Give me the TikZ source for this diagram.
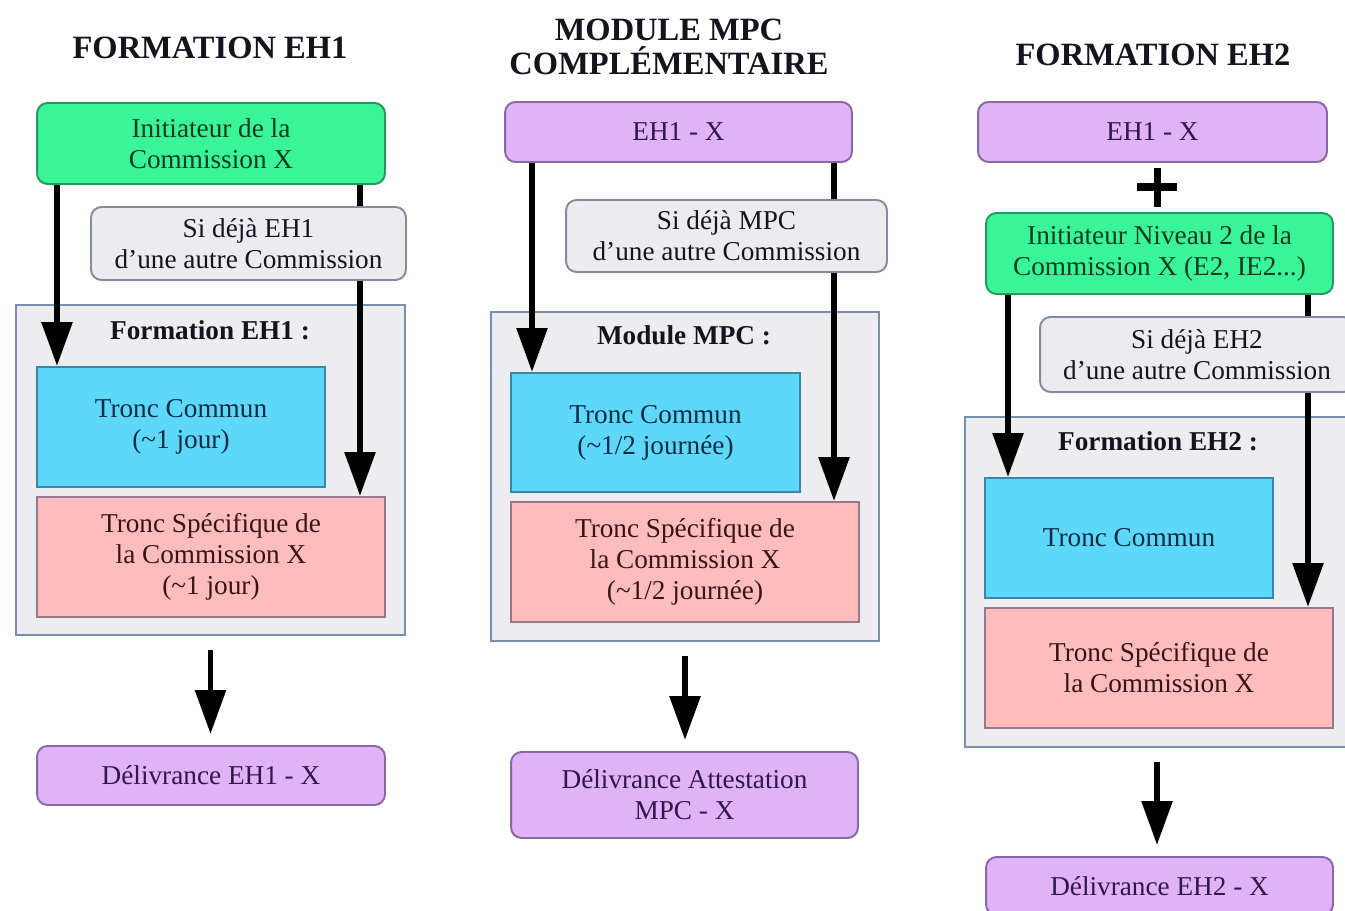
\documentclass[tikz,border=0pt]{standalone}
\usepackage{fontspec}
\setmainfont{Liberation Serif}
\usetikzlibrary{arrows.meta}
\definecolor{grn}{RGB}{58,245,152}
\definecolor{grnd}{RGB}{40,150,95}
\definecolor{grnt}{RGB}{14,59,32}
\definecolor{pur}{RGB}{224,178,248}
\definecolor{purd}{RGB}{135,105,160}
\definecolor{purt}{RGB}{48,24,72}
\definecolor{blu}{RGB}{94,216,250}
\definecolor{blud}{RGB}{55,135,170}
\definecolor{blut}{RGB}{13,43,69}
\definecolor{pnk}{RGB}{255,188,188}
\definecolor{pnkd}{RGB}{150,120,145}
\definecolor{pnkt}{RGB}{58,20,20}
\definecolor{gry}{RGB}{236,236,240}
\definecolor{gryd}{RGB}{130,140,160}
\definecolor{cnt}{RGB}{237,237,239}
\definecolor{cntd}{RGB}{120,144,176}
\definecolor{ttl}{RGB}{20,20,30}
\begin{document}
\begin{tikzpicture}[x=0.02cm,y=-0.02cm,
  box/.style={draw, line width=1.1pt, inner sep=0pt, align=center,
    font=\fontsize{15.5}{17.6}\selectfont},
  rbox/.style={box, rounded corners=6pt},
  greenbox/.style={rbox, fill=grn, draw=grnd, text=grnt},
  purplebox/.style={rbox, fill=pur, draw=purd, text=purt},
  graybox/.style={rbox, fill=gry, draw=gryd, text=ttl},
  bluebox/.style={box, fill=blu, draw=blud, text=blut},
  pinkbox/.style={box, fill=pnk, draw=pnkd, text=pnkt},
  contbox/.style={draw=cntd, fill=cnt, line width=1.1pt, inner sep=0pt},
  ctitle/.style={font=\fontsize{15.5}{17.6}\selectfont\bfseries, text=ttl, inner sep=0pt},
  title/.style={font=\fontsize{18.5}{19.8}\selectfont\bfseries, text=ttl, align=center, inner sep=0pt},
  arr/.style={line width=3.4pt, -{Triangle[width=17pt,length=25pt]}},
  botarr/.style={arr, shorten <=0.29cm, shorten >=0.22cm},
  wh/.style n args={2}{minimum width=#1cm, minimum height=#2cm}
]
\useasboundingbox (0,0) rectangle (1345,911);
\clip (0,0) rectangle (1345,911);
\fill[white] (0,0) rectangle (1345,911);

% ---------------- Column 1 ----------------
\node[title] (t1) at (210,48) {FORMATION EH1};
\node[greenbox, wh={6.96}{1.62}] (i1) at (211,143.5) {Initiateur de la\\Commission X};
\node[contbox, wh={7.78}{6.6}] (c1) at (210.5,470) {};
\node[ctitle] (l1) at (210,330) {Formation EH1 :};
\node[bluebox, wh={5.76}{2.4}] (tc1) at (181,427) {Tronc Commun\\(\textasciitilde1 jour)};
\node[pinkbox, wh={6.96}{2.4}] (ts1) at (211,557) {Tronc Spécifique de\\la Commission X\\(\textasciitilde1 jour)};
\node[purplebox, wh={6.96}{1.18}] (d1) at (211,775.5) {Délivrance EH1 - X};
\coordinate (x1a) at (57,0);
\coordinate (x1b) at (360,0);
\draw[arr] (i1.south -| x1a) -- (tc1.north -| x1a);
\draw[arr] (i1.south -| x1b) -- (ts1.north -| x1b);
\draw[botarr] (c1.south) -- (c1.south |- d1.north);
\node[graybox, wh={6.3}{1.46}] (s1) at (248.5,243.5) {Si déjà EH1\\d’une autre Commission};

% ---------------- Column 2 ----------------
\node[title] (t2) at (669,47) {MODULE MPC\\COMPLÉMENTAIRE};
\node[purplebox, wh={6.94}{1.2}] (e2) at (678.5,132) {EH1 - X};
\node[contbox, wh={7.76}{6.58}] (c2) at (685,476.5) {};
\node[ctitle] (l2) at (684,335) {Module MPC :};
\node[bluebox, wh={5.78}{2.38}] (tc2) at (655.5,432.5) {Tronc Commun\\(\textasciitilde1/2 journée)};
\node[pinkbox, wh={6.96}{2.4}] (ts2) at (685,562) {Tronc Spécifique de\\la Commission X\\(\textasciitilde1/2 journée)};
\node[purplebox, wh={6.94}{1.72}] (d2) at (684.5,795) {Délivrance Attestation\\MPC - X};
\coordinate (x2a) at (532,0);
\coordinate (x2b) at (834,0);
\draw[arr] (e2.south -| x2a) -- (tc2.north -| x2a);
\draw[arr] (e2.south -| x2b) -- (ts2.north -| x2b);
\draw[botarr] (c2.south) -- (c2.south |- d2.north);
\node[graybox, wh={6.42}{1.44}] (s2) at (726.5,236) {Si déjà MPC\\d’une autre Commission};

% ---------------- Column 3 ----------------
\node[title] (t3) at (1153,55) {FORMATION EH2};
\node[purplebox, wh={6.98}{1.2}] (e3) at (1152.5,132) {EH1 - X};
\draw[line width=4pt] (1137,187) -- (1177,187) (1157,168) -- (1157,207);
\node[greenbox, wh={6.94}{1.62}] (g3) at (1159.5,253.5) {Initiateur Niveau 2 de la\\Commission X (E2, IE2...)};
\node[contbox, wh={7.72}{6.6}] (c3) at (1158,582) {};
\node[ctitle] (l3) at (1158,441) {Formation EH2 :};
\node[bluebox, wh={5.76}{2.4}] (tc3) at (1129,538) {Tronc Commun};
\node[pinkbox, wh={6.96}{2.4}] (ts3) at (1159,668) {Tronc Spécifique de\\la Commission X};
\node[purplebox, wh={6.94}{1.16}] (d3) at (1159.5,886) {Délivrance EH2 - X};
\coordinate (x3a) at (1008,0);
\coordinate (x3b) at (1308,0);
\coordinate (x3c) at (1157,0);
\draw[arr] (g3.south -| x3a) -- (tc3.north -| x3a);
\draw[arr] (g3.south -| x3b) -- (ts3.north -| x3b);
\draw[botarr] (c3.south -| x3c) -- (d3.north -| x3c);
\node[graybox, wh={6.28}{1.5}] (s3) at (1197,354.5) {Si déjà EH2\\d’une autre Commission};
\end{tikzpicture}
\end{document}
